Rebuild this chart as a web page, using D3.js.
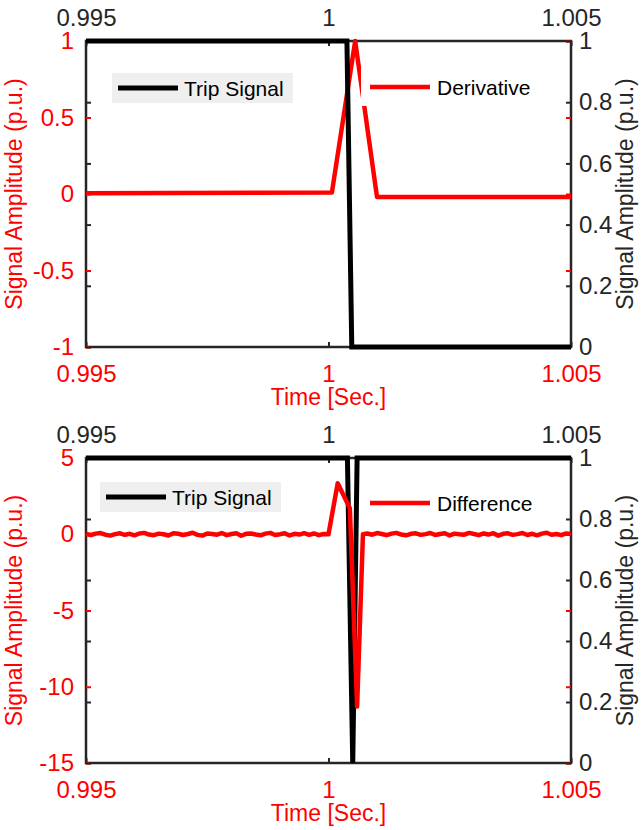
<!DOCTYPE html>
<html>
<head>
<meta charset="utf-8">
<script src="https://cdn.jsdelivr.net/npm/d3@7"></script>
<style>
  body { margin: 0; background: #fff; }
  text { font-family: "Liberation Sans", Arial, sans-serif; }
</style>
</head>
<body>
<div id="chart"></div>
<script>
// Tick values
const xTicks = [0.995, 1, 1.005];
const yTicksTop = [-1, -0.5, 0, 0.5, 1];
const yTicksBottom = [-15, -10, -5, 0, 5];
const yTicksRight = [0, 0.2, 0.4, 0.6, 0.8, 1];

// Top panel: trip signal and derivative
const tripTimesTop = [0.995, 1.00038, 1.00048, 1.005];
const tripValsTop = [1, 1, 0, 0];
const derivTimes = [0.995, 1.00007, 1.00055, 1.00100, 1.005];
const derivVals = [0.005, 0.01, 1.0, -0.02, -0.02];

// Bottom panel: trip signal and difference
const tripTimesBottom = [0.995, 1.00039, 1.0005, 1.00059, 1.005];
const tripValsBottom = [1, 1, 0, 1, 1];

// difference: noise before the event (0.995 .. 1.0000, step 0.0001)
const diffStep = 0.0001;
const diffPreStart = 0.995;
const diffPre = [
  0.02, -0.05, 0.04, 0.08, -0.03, -0.09, 0.01, 0.06, -0.04, 0.03,
  -0.07, 0.05, 0.09, -0.02, -0.06, 0.04, 0.00, -0.08, 0.07, 0.03,
  -0.05, 0.02, 0.10, -0.04, -0.09, 0.05, 0.01, -0.03, 0.08, -0.06,
  0.02, 0.06, -0.10, 0.03, 0.05, -0.02, -0.07, 0.04, 0.09, -0.05,
  0.00, 0.06, -0.08, 0.03, -0.02, 0.07, -0.04, 0.05, -0.06, 0.02,
  0.00
];
// the event itself
const diffEventTimes = [1.00019, 1.00044, 1.00059, 1.00071];
const diffEventVals = [3.35, 1.7, -11.3, 0.0];
// noise after the event (1.0008 .. 1.005)
const diffPostStart = 1.0008;
const diffPost = [
  0.05, -0.03, 0.08, 0.02, -0.06, 0.04, 0.09, -0.02, -0.07, 0.03,
  0.06, -0.04, 0.01, 0.08, -0.05, 0.02, 0.07, -0.08, 0.04, 0.00,
  -0.03, 0.09, 0.02, -0.06, 0.05, -0.02, 0.07, -0.09, 0.03, 0.06,
  -0.04, 0.01, 0.08, -0.05, 0.03, -0.07, 0.04, 0.10, -0.03, 0.02,
  -0.06, 0.05, 0.01
];

const RED = "#ff0000";
const DARK = "#262626";

const W = 642, H = 830;
const left = 86, right = 571;

const svg = d3.select("#chart").append("svg")
    .attr("width", W)
    .attr("height", H);

const x = d3.scaleLinear().domain([0.995, 1.005]).range([left, right]);

function zip(ts, vs) {
    return ts.map((t, i) => ({t: t, v: vs[i]}));
}

function drawPanel(cfg) {
    const top = cfg.top, bottom = cfg.bottom;
    const yL = d3.scaleLinear().domain(cfg.yDomain).range([bottom, top]);
    const yR = d3.scaleLinear().domain([0, 1]).range([bottom, top]);
    const g = svg.append("g");

    // frame
    g.append("rect")
        .attr("x", left).attr("y", top)
        .attr("width", right - left).attr("height", bottom - top)
        .attr("fill", "none")
        .attr("stroke", DARK)
        .attr("stroke-width", 2.5);

    const fmt = d => String(d);

    // top x axis (black labels)
    const axTop = g.append("g")
        .attr("transform", "translate(0," + top + ")")
        .call(d3.axisTop(x).tickValues(xTicks).tickFormat(fmt).tickSize(-5).tickPadding(15));
    axTop.selectAll("text").attr("fill", DARK).style("font-size", "24px");
    axTop.selectAll("line").attr("stroke", DARK).attr("stroke-width", 2);

    // bottom x axis (red labels)
    const axBot = g.append("g")
        .attr("transform", "translate(0," + bottom + ")")
        .call(d3.axisBottom(x).tickValues(xTicks).tickFormat(fmt).tickSize(-5).tickPadding(18));
    axBot.selectAll("text").attr("fill", RED).style("font-size", "24px");
    axBot.selectAll("line").attr("stroke", DARK).attr("stroke-width", 2);

    // left y axis (red)
    const axL = g.append("g")
        .attr("transform", "translate(" + left + ",0)")
        .call(d3.axisLeft(yL).tickValues(cfg.yTicks).tickFormat(fmt).tickSize(-5).tickPadding(12));
    axL.selectAll("text").attr("fill", RED).style("font-size", "24px");
    axL.selectAll("line").attr("stroke", RED).attr("stroke-width", 2);

    // left ticks mirrored on the right
    const axL2 = g.append("g")
        .attr("transform", "translate(" + right + ",0)")
        .call(d3.axisRight(yL).tickValues(cfg.yTicks).tickFormat("").tickSize(-5));
    axL2.selectAll("line").attr("stroke", RED).attr("stroke-width", 2);

    // right y axis (black)
    const axR = g.append("g")
        .attr("transform", "translate(" + right + ",0)")
        .call(d3.axisRight(yR).tickValues(yTicksRight).tickFormat(fmt).tickSize(-5).tickPadding(8));
    axR.selectAll("text").attr("fill", DARK).style("font-size", "24px");
    axR.selectAll("line").attr("stroke", DARK).attr("stroke-width", 2);

    // right ticks mirrored on the left
    const axR2 = g.append("g")
        .attr("transform", "translate(" + left + ",0)")
        .call(d3.axisLeft(yR).tickValues(yTicksRight).tickFormat("").tickSize(-5));
    axR2.selectAll("line").attr("stroke", DARK).attr("stroke-width", 2);

    g.selectAll(".domain").remove();

    // axis titles
    const mid = (top + bottom) / 2;
    g.append("text")
        .attr("transform", "translate(22," + mid + ") rotate(-90)")
        .attr("text-anchor", "middle")
        .attr("fill", RED)
        .style("font-size", "23px")
        .text("Signal Amplitude (p.u.)");
    g.append("text")
        .attr("transform", "translate(633," + mid + ") rotate(-90)")
        .attr("text-anchor", "middle")
        .attr("fill", DARK)
        .style("font-size", "23px")
        .text("Signal Amplitude (p.u.)");
    g.append("text")
        .attr("x", (left + right) / 2)
        .attr("y", bottom + 58)
        .attr("text-anchor", "middle")
        .attr("fill", RED)
        .style("font-size", "23px")
        .text("Time [Sec.]");

    // lines
    const lineL = d3.line().x(d => x(d.t)).y(d => yL(d.v));
    const lineR = d3.line().x(d => x(d.t)).y(d => yR(d.v));

    const drawRed = () => g.append("path")
        .datum(cfg.redData)
        .attr("d", lineL)
        .attr("fill", "none")
        .attr("stroke", RED)
        .attr("stroke-width", 4.5)
        .attr("stroke-linejoin", "round");
    const drawBlack = () => g.append("path")
        .datum(cfg.tripData)
        .attr("d", lineR)
        .attr("fill", "none")
        .attr("stroke", "#000")
        .attr("stroke-width", 5)
        .attr("stroke-linejoin", "miter");

    if (cfg.redOnTop) { drawBlack(); drawRed(); }
    else { drawRed(); drawBlack(); }

    // legends
    const lt = cfg.tripLegend;
    g.append("rect")
        .attr("x", lt.x).attr("y", lt.y)
        .attr("width", 181).attr("height", 30)
        .attr("fill", "#efefef");
    g.append("line")
        .attr("x1", lt.x + 6).attr("x2", lt.x + 66)
        .attr("y1", lt.y + 15).attr("y2", lt.y + 15)
        .attr("stroke", "#000").attr("stroke-width", 5);
    g.append("text")
        .attr("x", lt.x + 72).attr("y", lt.y + 23)
        .attr("fill", "#000")
        .style("font-size", "21px")
        .text("Trip Signal");

    const lr = cfg.redLegend;
    g.append("rect")
        .attr("x", lr.x).attr("y", lr.y)
        .attr("width", 187).attr("height", 38)
        .attr("fill", "#fff");
    g.append("line")
        .attr("x1", lr.x + 9).attr("x2", lr.x + 69)
        .attr("y1", lr.y + 19).attr("y2", lr.y + 19)
        .attr("stroke", RED).attr("stroke-width", 4.5);
    g.append("text")
        .attr("x", lr.x + 76).attr("y", lr.y + 27)
        .attr("fill", "#000")
        .style("font-size", "21px")
        .text(cfg.redName);
}

// top panel
drawPanel({
    top: 41, bottom: 347,
    yDomain: [-1, 1],
    yTicks: yTicksTop,
    redData: zip(derivTimes, derivVals),
    tripData: zip(tripTimesTop, tripValsTop),
    redOnTop: false,
    redName: "Derivative",
    tripLegend: {x: 112, y: 73},
    redLegend: {x: 361, y: 68}
});

// bottom panel
const diffData = diffPre.map((v, i) => ({t: diffPreStart + i * diffStep, v: v}))
    .concat(zip(diffEventTimes, diffEventVals))
    .concat(diffPost.map((v, i) => ({t: diffPostStart + i * diffStep, v: v})));

drawPanel({
    top: 458, bottom: 763,
    yDomain: [-15, 5],
    yTicks: yTicksBottom,
    redData: diffData,
    tripData: zip(tripTimesBottom, tripValsBottom),
    redOnTop: true,
    redName: "Difference",
    tripLegend: {x: 100, y: 482},
    redLegend: {x: 361, y: 484}
});
</script>
</body>
</html>
